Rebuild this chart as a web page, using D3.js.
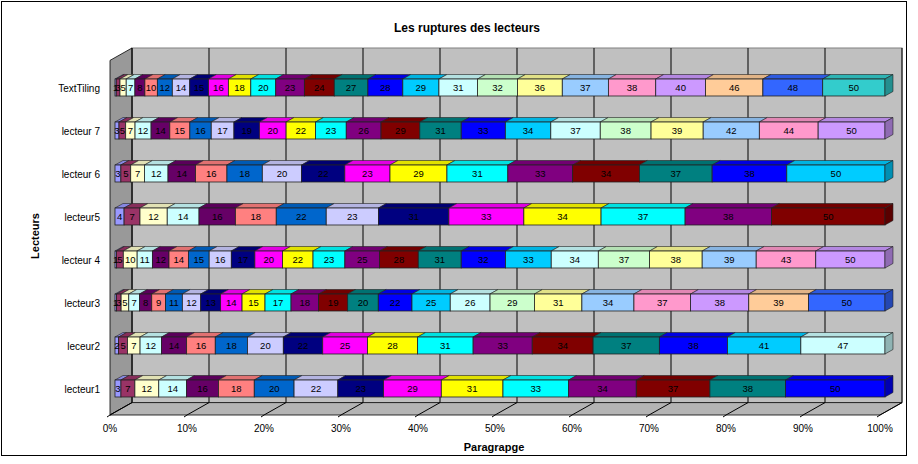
<!DOCTYPE html>
<html><head><meta charset="utf-8">
<script src="https://cdn.jsdelivr.net/npm/d3@7"></script>
<style>body{margin:0;background:#fff}svg{display:block}</style>
</head><body>
<svg id="c" width="918" height="464"></svg>
<script>
const categories = ["TextTiling","lecteur 7","lecteur 6","lecteur5","lecteur 4","lecteur3","leceur2","lecteur1"];
const textTiling = [1,3,5,7,8,10,12,14,15,16,18,20,23,24,27,28,29,31,32,36,37,38,40,46,48,50];
const lecteur7 = [3,5,7,12,14,15,16,17,19,20,22,23,26,29,31,33,34,37,38,39,42,44,50];
const lecteur6 = [3,5,7,12,14,16,18,20,22,23,29,31,33,34,37,38,50];
const lecteur5 = [4,7,12,14,16,18,22,23,31,33,34,37,38,50];
const lecteur4 = [1,5,10,11,12,14,15,16,17,20,22,23,25,28,31,32,33,34,37,38,39,43,50];
const lecteur3 = [1,3,5,7,8,9,11,12,13,14,15,17,18,19,20,22,25,26,29,31,34,37,38,39,50];
const leceur2 = [2,5,7,12,14,16,18,20,22,25,28,31,33,34,37,38,41,47];
const lecteur1 = [3,7,12,14,16,18,20,22,23,29,31,33,34,37,38,50];
const rows = [textTiling,lecteur7,lecteur6,lecteur5,lecteur4,lecteur3,leceur2,lecteur1];
const seriesColors = ["#9999FF","#993366","#FFFFCC","#CCFFFF","#660066","#FF8080","#0066CC","#CCCCFF",
  "#000080","#FF00FF","#FFFF00","#00FFFF","#800080","#800000","#008080","#0000FF","#00CCFF","#CCFFFF",
  "#CCFFCC","#FFFF99","#99CCFF","#FF99CC","#CC99FF","#FFCC99","#3366FF","#33CCCC"];
const xTicks = [0,0.1,0.2,0.3,0.4,0.5,0.6,0.7,0.8,0.9,1];
const title = "Les ruptures des lecteurs";
const xTitle = "Paragrapge";
const yTitle = "Lecteurs";

const svg = d3.select("#c");
const FONT = "'Liberation Sans', Arial, sans-serif";

const FY = 415;
const WALL_TOP = 48;
const W = {dx: 22, dy: -12.4};
const zf = 0.227, zb = 0.59;
const x = d3.scaleLinear().domain([0,1]).range([110,880]);
const y = d3.scaleBand().domain(categories).range([66,410]).paddingInner(0.605).paddingOuter(0.3025);

svg.append("rect").attr("x",1.5).attr("y",1.5).attr("width",905).attr("height",454)
  .attr("fill","#fff").attr("stroke","#000").attr("stroke-width",1);

const bx0 = x(0)+W.dx, bx1 = x(1)+W.dx, byb = FY+W.dy;
svg.append("rect").attr("x",bx0).attr("y",WALL_TOP).attr("width",bx1-bx0).attr("height",byb-WALL_TOP)
  .attr("fill","#C0C0C0").attr("stroke","#808080");
svg.append("polygon").attr("points",[[x(0),WALL_TOP-W.dy],[bx0,WALL_TOP],[bx0,byb],[x(0),FY]].join(" "))
  .attr("fill","#999999").attr("stroke","#000").attr("stroke-width",0.8);
svg.append("polygon").attr("points",[[x(0),FY],[bx0,byb],[bx1,byb],[x(1),FY]].join(" "))
  .attr("fill","#B4B4B4").attr("stroke","#000").attr("stroke-width",0.8);

const g = svg.append("g");
xTicks.forEach(t=>{
  g.append("polyline").attr("points",[[x(t)+W.dx,WALL_TOP],[x(t)+W.dx,byb],[x(t),FY]].join(" "))
   .attr("fill","none").attr("stroke","#000").attr("stroke-width",1);
  g.append("line").attr("x1",x(t)).attr("x2",x(t)-3).attr("y1",FY).attr("y2",FY+2).attr("stroke","#000");
});

const fdx = zf*W.dx, fdy = zf*W.dy;
const ddx = (zb-zf)*W.dx, ddy = (zb-zf)*W.dy;
const bars = svg.append("g");
rows.forEach((vals,ri)=>{
  const total = d3.sum(vals);
  const y0 = y(categories[ri]) , h = y.bandwidth();
  let cum = 0;
  const segs = vals.map((v,i)=>{const s={v,i,a:cum/total,b:(cum+v)/total}; cum+=v; return s;});
  const gr = bars.append("g");
  segs.forEach(s=>{
    const c = d3.color(seriesColors[s.i]);
    const xa = x(s.a)+fdx, xb = x(s.b)+fdx;
    gr.append("polygon").attr("points",[[xa,y0],[xa+ddx,y0+ddy],[xb+ddx,y0+ddy],[xb,y0]].join(" "))
      .attr("fill",c.darker(0.35)).attr("stroke","#222").attr("stroke-width",0.6);
    gr.append("rect").attr("x",xa).attr("y",y0).attr("width",xb-xa).attr("height",h)
      .attr("fill",c).attr("stroke","#222").attr("stroke-width",0.8);
  });
  const last = segs[segs.length-1];
  const xe = x(1)+fdx;
  gr.append("polygon").attr("points",[[xe,y0],[xe+ddx,y0+ddy],[xe+ddx,y0+h+ddy],[xe,y0+h]].join(" "))
    .attr("fill",d3.color(seriesColors[last.i]).darker(1)).attr("stroke","#222").attr("stroke-width",0.6);
  segs.forEach(s=>{
    gr.append("text").attr("x",(x(s.a)+x(s.b))/2+fdx).attr("y",y0+h/2+3.5)
      .attr("text-anchor","middle").attr("font-family",FONT).attr("font-size",9.5).attr("fill","#000")
      .text(s.v);
  });
  svg.append("text").attr("x",100).attr("y",y0+h/2+4).attr("text-anchor","end")
    .attr("font-family",FONT).attr("font-size",10).text(categories[ri]);
});

xTicks.forEach(t=>{
  svg.append("text").attr("x",x(t)).attr("y",432).attr("text-anchor","middle")
    .attr("font-family",FONT).attr("font-size",10).text(d3.format(".0%")(t));
});

svg.append("text").attr("x",467).attr("y",32).attr("text-anchor","middle")
  .attr("font-family",FONT).attr("font-size",12).attr("font-weight","bold").text(title);
svg.append("text").attr("x",494).attr("y",451).attr("text-anchor","middle")
  .attr("font-family",FONT).attr("font-size",11).attr("font-weight","bold").text(xTitle);
svg.append("text").attr("transform","translate(39,236) rotate(-90)").attr("text-anchor","middle")
  .attr("font-family",FONT).attr("font-size",11).attr("font-weight","bold").text(yTitle);
</script>
</body></html>
